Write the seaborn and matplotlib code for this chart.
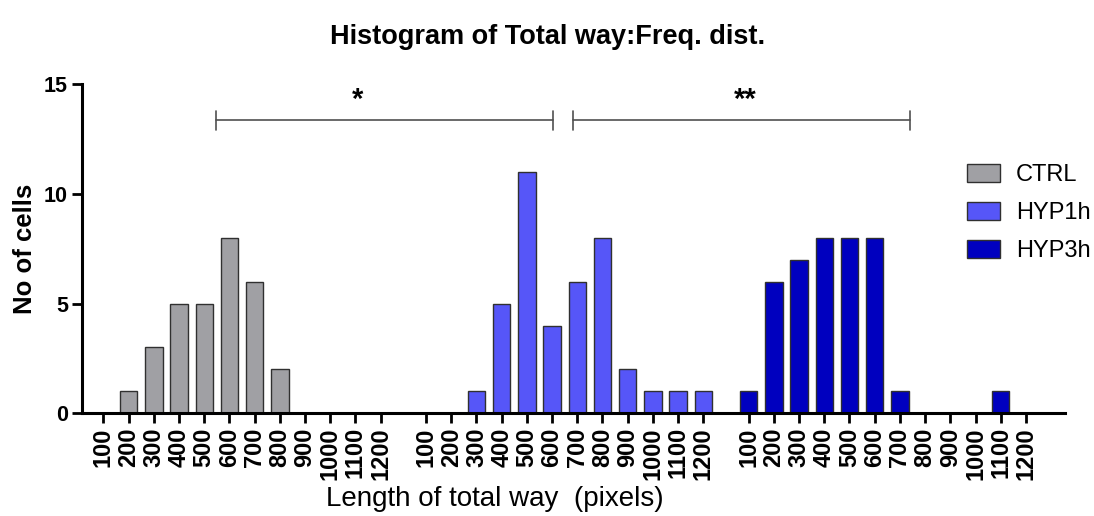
import numpy as np
import pandas as pd
import matplotlib
matplotlib.use("Agg")
import matplotlib.pyplot as plt
from matplotlib.patches import Patch
import seaborn as sns

# histogram bins (pixels) and counts per group
bins = [100, 200, 300, 400, 500, 600, 700, 800, 900, 1000, 1100, 1200]
groups = ["CTRL", "HYP1h", "HYP3h"]
ctrl = [0, 1, 3, 5, 5, 8, 6, 2, 0, 0, 0, 0]
hyp1h = [0, 0, 1, 5, 11, 4, 6, 8, 2, 1, 1, 1]
hyp3h = [1, 6, 7, 8, 8, 8, 1, 0, 0, 0, 1, 0]

colors = {"CTRL": "#a0a0a4", "HYP1h": "#5656f8", "HYP3h": "#0000bf"}

# group blocks are laid out side by side with a gap between them
group_step = 12.8
rows = []
for g, (name, vals) in enumerate(zip(groups, [ctrl, hyp1h, hyp3h])):
    for i, (b, v) in enumerate(zip(bins, vals)):
        rows.append({"pos": g * group_step + i, "bin": b, "count": v, "group": name})
df = pd.DataFrame(rows)

sns.set_style("ticks")
plt.rcParams["font.family"] = ["Liberation Sans", "DejaVu Sans"]
plt.rcParams.update({"text.color": "black", "axes.labelcolor": "black",
                     "xtick.color": "black", "ytick.color": "black"})

fig = plt.figure(figsize=(10.94, 5.16), dpi=100)
ax = fig.add_axes([0.0747, 0.199, 0.8988, 0.638])

sns.barplot(data=df, x="pos", y="count", hue="group", hue_order=groups,
            palette=colors, saturation=1, native_scale=True, width=0.69,
            errorbar=None, edgecolor="#303030", linewidth=1.0, legend=False, ax=ax)

ax.set_xlim(-0.86, 38.15)
ax.set_ylim(0, 15)
ax.set_yticks([0, 5, 10, 15])
ax.set_yticklabels(["0", "5", "10", "15"], fontsize=15.5, fontweight="bold")
ax.set_xticks(df["pos"])
ax.set_xticklabels([str(b) for b in df["bin"]], rotation=90,
                   fontsize=17, fontweight="bold")
ax.tick_params(axis="both", direction="out", length=7, width=2, pad=3)
for side in ["left", "bottom"]:
    ax.spines[side].set_linewidth(2.2)
    ax.spines[side].set_color("black")
sns.despine(ax=ax)

ax.set_ylabel("No of cells", fontsize=18.5, fontweight="bold")
ax.yaxis.set_label_coords(-0.045, 0.5)
ax.set_xlabel("Length of total way  (pixels)", fontsize=20)
ax.xaxis.set_label_coords(0.42, -0.222)
ax.set_title("Histogram of Total way:Freq. dist.", fontsize=19.5, fontweight="bold",
             x=0.474, y=1.098)

# significance brackets
brackets = [(4.47, 17.85, 10.1, "*"), (18.63, 32.0, 25.45, "**")]
by = 13.35
for x0, x1, xt, star in brackets:
    ax.plot([x0, x1], [by, by], color="#505050", lw=1.2, clip_on=False)
    ax.plot([x0, x0], [by - 0.42, by + 0.42], color="#505050", lw=1.2, clip_on=False)
    ax.plot([x1, x1], [by - 0.42, by + 0.42], color="#505050", lw=1.2, clip_on=False)
    ax.text(xt, 14.3, star, ha="center", va="center", fontsize=21, fontweight="bold")

handles = [Patch(facecolor=colors[g], edgecolor="#303030", linewidth=1.0, label=g)
           for g in groups]
fig.legend(handles=handles, loc="upper left", bbox_to_anchor=(0.8836, 0.682),
           frameon=False, fontsize=17, handlelength=1.4, handleheight=0.75,
           handletextpad=0.7, labelspacing=0.68, borderpad=0, borderaxespad=0)

fig.savefig("out.png", dpi=100)
